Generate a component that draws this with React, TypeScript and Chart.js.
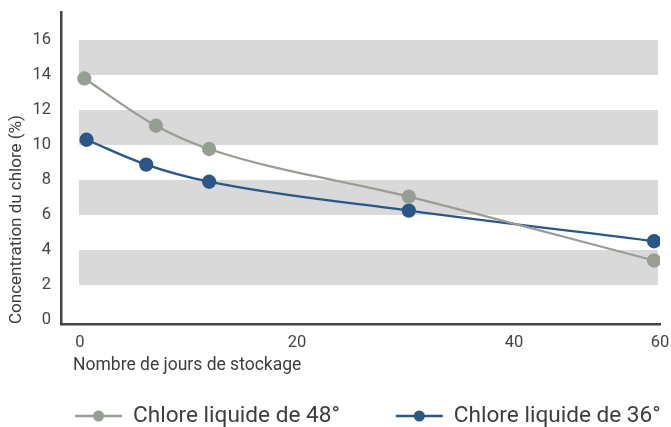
import { useEffect, useRef } from 'react';
import { Chart, registerables } from 'chart.js';

Chart.register(...registerables);

const seriesNames = ['Chlore liquide de 48°', 'Chlore liquide de 36°'];
const days48 = [0.4, 7.0, 11.9, 30.3, 52.9];
const chlore48 = [13.8, 11.1, 9.77, 7.05, 3.4];
const days36 = [0.6, 6.1, 11.9, 30.3, 52.9];
const chlore36 = [10.3, 8.88, 7.9, 6.25, 4.5];
const xTickValues = [0, 20, 40, 53.45];
const xTickLabels = ['0', '20', '40', '60'];
const yTickValues = [0, 2, 4, 6, 8, 10, 12, 14, 16];
const bandLows = [2, 6, 10, 14];
const bandHighs = [4, 8, 12, 16];
const yTitle = 'Concentration du chlore (%)';
const xTitle = 'Nombre de jours de stockage';

const GRAY = '#979f94';
const BLUE = '#2b5688';
const BAND = '#d8d9d8';
const AXIS = '#444444';
const TEXT = '#3d3d3d';
const FONT = 'Roboto, "DejaVu Sans", sans-serif';

const bandsPlugin = {
  id: 'bands',
  beforeDatasetsDraw(chart: any) {
    const { ctx, chartArea, scales } = chart;
    const y = scales.y;
    ctx.save();
    ctx.fillStyle = BAND;
    const l = chartArea.left + 18;
    const r = chartArea.right - 2;
    bandLows.forEach((lo, i) => {
      const t = y.getPixelForValue(bandHighs[i]);
      const b = y.getPixelForValue(lo);
      ctx.fillRect(l, t, r - l, b - t);
    });
    ctx.restore();
  },
};

const textPlugin = {
  id: 'texts',
  afterDraw(chart: any) {
    const { ctx, chartArea } = chart;
    ctx.save();
    ctx.fillStyle = TEXT;
    ctx.textBaseline = 'middle';
    ctx.textAlign = 'left';
    ctx.font = `17.5px ${FONT}`;
    ctx.fillText(xTitle, chartArea.left + 12, 366);

    // legend
    const ly = 416;
    let x = 75;
    ctx.font = `22.6px ${FONT}`;
    chart.data.datasets.forEach((ds: any) => {
      const color = ds.borderColor;
      ctx.strokeStyle = color;
      ctx.lineWidth = 2.5;
      ctx.beginPath();
      ctx.moveTo(x, ly);
      ctx.lineTo(x + 47, ly);
      ctx.stroke();
      ctx.fillStyle = color;
      ctx.beginPath();
      ctx.arc(x + 23.5, ly, 5.5, 0, Math.PI * 2);
      ctx.fill();
      ctx.fillStyle = TEXT;
      ctx.fillText(ds.label, x + 58, ly);
      x += 58 + ctx.measureText(ds.label).width + 56;
    });
    ctx.restore();
  },
};

export default function App() {
  const ref = useRef<HTMLCanvasElement | null>(null);

  useEffect(() => {
    if (!ref.current) return;
    const chart = new Chart(ref.current, {
      type: 'line',
      data: {
        datasets: [
          {
            label: seriesNames[0],
            data: days48.map((d, i) => ({ x: d, y: chlore48[i] })),
            borderColor: GRAY,
            backgroundColor: GRAY,
            pointBackgroundColor: GRAY,
            pointBorderColor: GRAY,
            pointRadius: 6,
            borderWidth: 2.3,
            cubicInterpolationMode: 'monotone',
          },
          {
            label: seriesNames[1],
            data: days36.map((d, i) => ({ x: d, y: chlore36[i] })),
            borderColor: BLUE,
            backgroundColor: BLUE,
            pointBackgroundColor: BLUE,
            pointBorderColor: BLUE,
            pointRadius: 6,
            borderWidth: 2.3,
            cubicInterpolationMode: 'monotone',
          },
        ],
      },
      options: {
        animation: false,
        responsive: false,
        layout: { padding: { left: 0, right: 11, top: 12, bottom: 0 } },
        plugins: {
          legend: { display: false },
          tooltip: { enabled: false },
        },
        scales: {
          x: {
            type: 'linear',
            min: -1.75,
            max: 53.45,
            grid: { display: false, drawTicks: false },
            border: { display: true, color: AXIS, width: 2.5 },
            afterBuildTicks: (scale: any) => {
              scale.ticks = xTickValues.map((v) => ({ value: v }));
            },
            afterFit: (scale: any) => {
              scale.height = 103;
              scale.paddingLeft = 0;
              scale.paddingRight = 0;
            },
            ticks: {
              autoSkip: false,
              maxRotation: 0,
              padding: 9,
              color: AXIS,
              font: { family: FONT, size: 16.5 },
              callback: (_v: any, i: number) => xTickLabels[i],
            },
          },
          y: {
            type: 'linear',
            min: -0.23,
            max: 17.6,
            grid: { display: false, drawTicks: false },
            border: { display: true, color: AXIS, width: 2.5 },
            afterBuildTicks: (scale: any) => {
              scale.ticks = yTickValues.map((v) => ({ value: v }));
            },
            afterFit: (scale: any) => {
              scale.width = 61;
              scale.paddingTop = 0;
              scale.paddingBottom = 0;
            },
            ticks: {
              padding: 10,
              color: AXIS,
              font: { family: FONT, size: 16.5 },
              callback: (v: any) => String(v),
            },
            title: {
              display: true,
              text: yTitle,
              align: 'start',
              color: TEXT,
              padding: { top: 7, bottom: 0 },
              font: { family: FONT, size: 17 },
            },
          },
        },
      },
      plugins: [bandsPlugin, textPlugin],
    } as any);
    return () => chart.destroy();
  }, []);

  return (
    <div style={{ position: 'fixed', left: 0, top: 0, width: 671, height: 427, background: '#fff' }}>
      <canvas ref={ref} width={671} height={427} style={{ display: 'block' }} />
    </div>
  );
}
